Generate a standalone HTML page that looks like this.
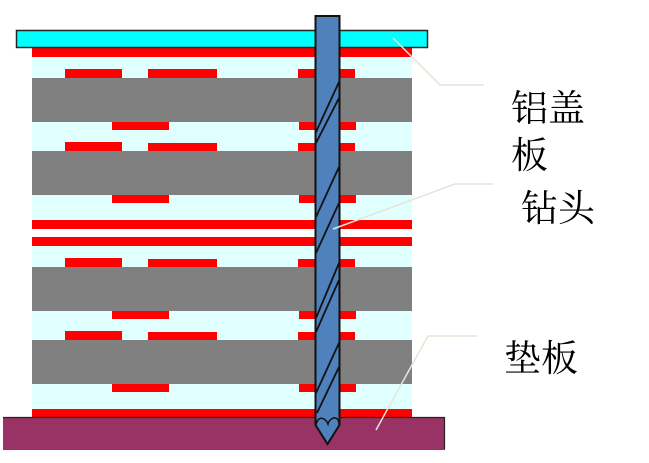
<!DOCTYPE html>
<html><head><meta charset="utf-8"><style>
html,body{margin:0;padding:0;background:#fff;width:649px;height:463px;overflow:hidden}
svg{display:block}
text{font-family:"Noto Serif CJK SC","Liberation Serif",serif;font-size:37px;fill:#000}
</style></head><body>
<svg width="649" height="463" viewBox="0 0 649 463">
<rect x="32" y="48" width="380" height="369" fill="#e0ffff"/>
<rect x="32" y="229" width="380" height="8" fill="#fff"/>
<rect x="32" y="48" width="380" height="9" fill="#f00"/>
<rect x="32" y="220" width="380" height="9" fill="#f00"/>
<rect x="32" y="237" width="380" height="9" fill="#f00"/>
<rect x="32" y="409" width="380" height="8" fill="#f00"/>
<rect x="32" y="78" width="380" height="44" fill="#808080"/>
<rect x="32" y="151" width="380" height="44" fill="#808080"/>
<rect x="32" y="267" width="380" height="44" fill="#808080"/>
<rect x="32" y="340" width="380" height="44" fill="#808080"/>
<g fill="#f00">
<rect x="65" y="69" width="57" height="9"/><rect x="148" y="69" width="69" height="9"/><rect x="298" y="69" width="57" height="9"/>
<rect x="65" y="142" width="57" height="9"/><rect x="148" y="143" width="69" height="8"/><rect x="298" y="143" width="57" height="8"/>
<rect x="65" y="258" width="57" height="9"/><rect x="148" y="259" width="69" height="8"/><rect x="298" y="259" width="57" height="8"/>
<rect x="65" y="331" width="57" height="9"/><rect x="148" y="332" width="69" height="8"/><rect x="298" y="332" width="57" height="8"/>
<rect x="112" y="122" width="57" height="8"/><rect x="299" y="122" width="57" height="8"/>
<rect x="112" y="195" width="57" height="8"/><rect x="299" y="195" width="57" height="8"/>
<rect x="112" y="311" width="57" height="8"/><rect x="299" y="311" width="57" height="8"/>
<rect x="112" y="384" width="57" height="8"/><rect x="299" y="384" width="57" height="8"/>
</g>
<rect x="16.5" y="30.5" width="411" height="17" fill="#00ffff" stroke="#222" stroke-width="1.5"/>
<rect x="3" y="417" width="442" height="33" fill="#993366"/>
<line x1="3" y1="417.5" x2="445" y2="417.5" stroke="#222" stroke-width="1.2"/>
<line x1="444.5" y1="417" x2="444.5" y2="449" stroke="#222" stroke-width="1.2"/>
<path d="M315.5 16 L339.5 16 L339.5 425 L327.5 444 L315.5 425 Z" fill="#4f81bd" stroke="#111" stroke-width="2"/>
<path d="M316 425 Q318 416 324 419 Q327 421 328 424 Q329 420 333 418 Q339 417 339 425" fill="none" stroke="#111" stroke-width="1.5"/>
<g stroke="#111" stroke-width="1.8">
<line x1="316" y1="132" x2="339" y2="82"/>
<line x1="316" y1="143" x2="339" y2="98"/>
<line x1="316" y1="217" x2="339" y2="167"/>
<line x1="316" y1="253" x2="339" y2="203"/>
<line x1="316" y1="318" x2="339" y2="263"/>
<line x1="316" y1="332" x2="339" y2="280"/>
<line x1="316" y1="393" x2="339" y2="343"/>
<line x1="317" y1="413" x2="339" y2="367"/>
</g>
<g stroke="#e8e4d8" stroke-width="1.5" fill="none">
<polyline points="393,38 440,85 484,85"/>
<polyline points="333,229 455,184 493,184"/>
<polyline points="376,430 428,336 477,336"/>
</g>
<text x="511" y="121">铝盖</text>
<text x="511" y="168">板</text>
<text x="521" y="221">钻头</text>
<text x="504" y="371">垫板</text>
</svg>
</body></html>
